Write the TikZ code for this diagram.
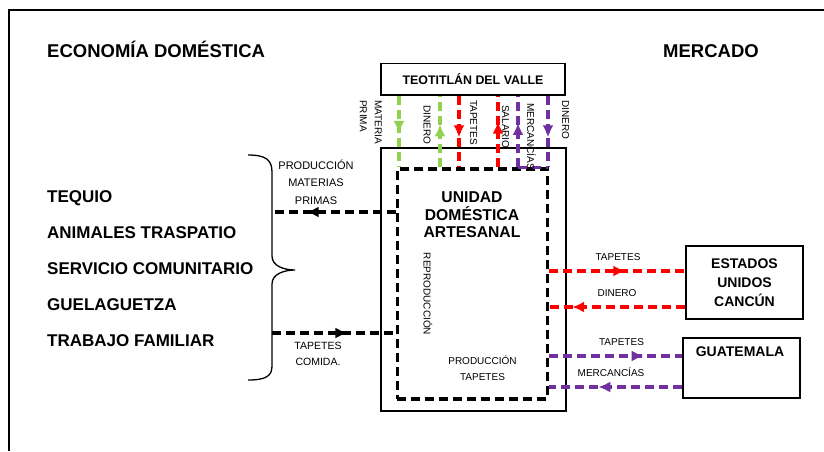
\documentclass[tikz,border=0pt]{standalone}
\usepackage{fontspec}
\setmainfont{Liberation Sans}
\usetikzlibrary{arrows.meta,decorations.markings,calc}

\definecolor{verde}{RGB}{146,208,80}
\definecolor{rojo}{RGB}{255,0,0}
\definecolor{morado}{RGB}{112,48,160}

\tikzset{
  caja/.style={draw, line width=1.4pt, inner sep=0pt},
  flujo/.style={line width=3.3pt, dash pattern=on 9pt off 5pt},
  flecha/.style={postaction={decorate},
    decoration={markings, mark=at position #1 with {\arrow{Latex[length=12pt,width=11pt]}}}},
  titulo/.style={font=\fontsize{18.5}{22}\selectfont\bfseries, anchor=base west, inner sep=0pt},
  lista/.style={font=\fontsize{17}{20}\selectfont\bfseries, anchor=base west, inner sep=0pt},
  etiq/.style={font=\fontsize{10}{12}\selectfont, inner sep=0pt},
  vetiq/.style={etiq, rotate=-90, anchor=base west},
}

\begin{document}
\begin{tikzpicture}[x=1pt, y=-1pt]
  \useasboundingbox (0,0) rectangle (824,451);

  % --- marco ---
  \draw[line width=2.5pt] (9,451) -- (9,10) -- (824,10);

  % --- titulos ---
  \node[titulo] (econ) at (47,57.5) {ECONOMÍA DOMÉSTICA};
  \node[titulo] (merc) at (663,57.5) {MERCADO};

  % --- economia domestica ---
  \node[lista] (tequio) at (47,202) {TEQUIO};
  \node[lista] (animales) at (47,238) {ANIMALES TRASPATIO};
  \node[lista] (servicio) at (47,274) {SERVICIO COMUNITARIO};
  \node[lista] (guela) at (47,310) {GUELAGUETZA};
  \node[lista] (trabajo) at (47,346) {TRABAJO FAMILIAR};

  % --- llave ---
  \draw[line width=1.3pt] (248,155) .. controls (266,155) and (272,160) .. (272,172)
    -- (272,256) .. controls (272,266) and (284,270) .. (295,270)
    .. controls (284,270) and (272,274) .. (272,284)
    -- (272,366) .. controls (272,376) and (266,380) .. (248,380);
  \coordinate (llave) at (272,0);

  % --- cajas ---
  \node[caja, minimum width=184pt, minimum height=31.7pt,
    font=\fontsize{12.4}{14}\selectfont\bfseries] (teot) at (473,79.2) {TEOTITLÁN DEL VALLE};
  \node[caja, line width=1.3pt, minimum width=185pt, minimum height=263pt] (ud) at (473.5,279.5) {};
  \node[draw, flujo, inner sep=0pt, minimum width=150pt, minimum height=230pt] (inner) at (472.3,284) {};
  \node[caja, minimum width=117pt, minimum height=73pt, align=center,
    font=\fontsize{14}{18.8}\selectfont\bfseries] (eu) at (744.5,282.5) {ESTADOS\\UNIDOS\\CANCÚN};
  \node[caja, minimum width=117pt, minimum height=60pt] (guat) at (741.5,368) {};
  \node[font=\fontsize{14}{18}\selectfont\bfseries, anchor=base, inner sep=0pt] (guattxt) at (740,356.7) {GUATEMALA};

  % --- unidad domestica ---
  \node[align=center, inner sep=0pt, font=\fontsize{15.7}{17.5}\selectfont\bfseries] (udtxt) at (472,215) {UNIDAD\\DOMÉSTICA\\ARTESANAL};
  \node[etiq, rotate=-90] (repro) at (428,294) {REPRODUCCIÓN};
  \node[etiq, align=center, font=\fontsize{10}{16}\selectfont] (prodtap) at (482.5,368.5) {PRODUCCIÓN\\TAPETES};

  % --- flujos verticales ---
  \draw[flujo, verde, flecha=0.52] (399,0 |- teot.south) -- (399,0 |- inner.north);
  \draw[flujo, verde, flecha=0.6] (440,0 |- inner.north) -- (440,0 |- teot.south);
  \draw[flujo, rojo, flecha=0.58] (459,0 |- teot.south) -- (459,0 |- inner.north);
  \draw[flujo, rojo, flecha=0.64] (498,0 |- inner.north) -- (498,0 |- teot.south);
  \draw[flujo, morado, flecha=0.62] (518,0 |- inner.north) -- (518,0 |- teot.south);
  \draw[flujo, morado, flecha=0.58] (548,0 |- teot.south) -- (548,0 |- inner.north);
  \draw[flujo, morado] (518,0 |- inner.north) -- (548,0 |- inner.north);

  \node[vetiq, align=left, anchor=north west, font=\fontsize{10}{15}\selectfont] (matprima) at (382,100) {MATERIA\\PRIMA};
  \node[vetiq] (din1) at (423.5,105) {DINERO};
  \node[vetiq] (tap1) at (470,100) {TAPETES};
  \node[vetiq] (salario) at (502,105) {SALARIO};
  \node[vetiq] (mercan1) at (527,103) {MERCANCÍAS};
  \node[vetiq] (din2) at (562,100) {DINERO};

  % --- flujos con la economia domestica ---
  \draw[flujo, flecha=0.72] (inner.west |- 0,212) -- (llave |- 0,212);
  \draw[flujo, flecha=0.61] (llave |- 0,333) -- (inner.west |- 0,333);
  \node[etiq, align=center, font=\fontsize{11}{17.3}\selectfont] (prodmat) at (316,182) {PRODUCCIÓN\\MATERIAS\\PRIMAS};
  \node[etiq, align=center, font=\fontsize{10.5}{15.5}\selectfont] (tapcom) at (318,354) {TAPETES\\COMIDA.};

  % --- flujos con el mercado ---
  \draw[flujo, rojo, flecha=0.56] (inner.east |- 0,271) -- (eu.west |- 0,271);
  \draw[flujo, rojo, flecha=0.83] (eu.west |- 0,307) -- (inner.east |- 0,307);
  \draw[flujo, morado, flecha=0.71] (inner.east |- 0,356) -- (guat.west |- 0,356);
  \draw[flujo, morado, flecha=0.63] (guat.west |- 0,387) -- (inner.east |- 0,387);
  \node[etiq, anchor=base] (tap2) at (618,260) {TAPETES};
  \node[etiq, anchor=base] (din3) at (617,296.7) {DINERO};
  \node[etiq, anchor=base] (tap3) at (621.5,345) {TAPETES};
  \node[etiq, anchor=base] (mercan2) at (611,376.7) {MERCANCÍAS};

\end{tikzpicture}
\end{document}
